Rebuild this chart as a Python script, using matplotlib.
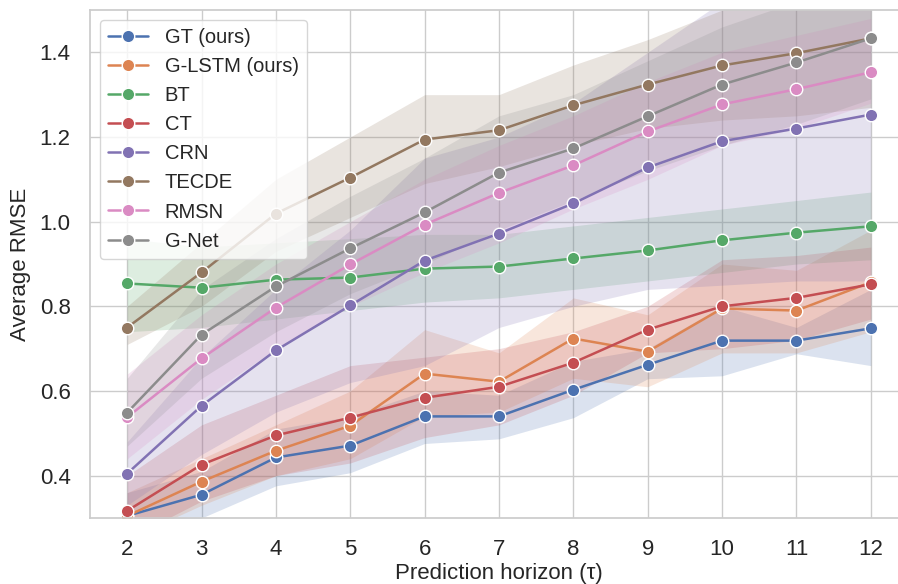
import matplotlib
matplotlib.use("Agg")
import matplotlib.pyplot as plt
import seaborn as sns
import numpy as np

horizons = [2, 3, 4, 5, 6, 7, 8, 9, 10, 11, 12]
models = ["GT (ours)", "G-LSTM (ours)", "BT", "CT", "CRN", "TECDE", "RMSN", "G-Net"]

gt_mean = [0.305, 0.355, 0.443, 0.471, 0.540, 0.540, 0.603, 0.662, 0.719, 0.719, 0.748]
gt_low = [0.25, 0.30, 0.376, 0.407, 0.476, 0.487, 0.537, 0.629, 0.636, 0.688, 0.66]
gt_high = [0.36, 0.41, 0.51, 0.54, 0.60, 0.59, 0.67, 0.70, 0.80, 0.75, 0.84]

glstm_mean = [0.305, 0.386, 0.459, 0.518, 0.641, 0.622, 0.724, 0.693, 0.795, 0.790, 0.857]
glstm_low = [0.25, 0.33, 0.40, 0.44, 0.54, 0.55, 0.63, 0.61, 0.69, 0.69, 0.74]
glstm_high = [0.36, 0.44, 0.52, 0.60, 0.745, 0.69, 0.82, 0.78, 0.90, 0.885, 0.98]

bt_mean = [0.854, 0.844, 0.863, 0.868, 0.889, 0.894, 0.913, 0.932, 0.956, 0.974, 0.989]
bt_low = [0.74, 0.75, 0.77, 0.79, 0.81, 0.82, 0.84, 0.86, 0.88, 0.90, 0.91]
bt_high = [0.96, 0.94, 0.95, 0.96, 0.97, 0.97, 0.99, 1.01, 1.03, 1.05, 1.07]

ct_mean = [0.317, 0.426, 0.495, 0.537, 0.584, 0.610, 0.667, 0.745, 0.800, 0.820, 0.852]
ct_low = [0.25, 0.34, 0.40, 0.43, 0.49, 0.52, 0.59, 0.69, 0.70, 0.72, 0.77]
ct_high = [0.40, 0.52, 0.59, 0.66, 0.68, 0.70, 0.74, 0.80, 0.91, 0.92, 0.94]

crn_mean = [0.405, 0.565, 0.696, 0.802, 0.908, 0.972, 1.043, 1.128, 1.190, 1.220, 1.253]
crn_low = [0.33, 0.45, 0.55, 0.62, 0.66, 0.75, 0.80, 0.84, 0.85, 0.86, 0.86]
crn_high = [0.48, 0.68, 0.84, 0.98, 1.15, 1.20, 1.28, 1.40, 1.52, 1.58, 1.65]

tecde_mean = [0.750, 0.880, 1.019, 1.104, 1.194, 1.216, 1.275, 1.324, 1.369, 1.398, 1.433]
tecde_low = [0.71, 0.80, 0.93, 1.01, 1.09, 1.13, 1.18, 1.22, 1.24, 1.25, 1.27]
tecde_high = [0.80, 0.95, 1.10, 1.20, 1.30, 1.30, 1.37, 1.43, 1.50, 1.55, 1.60]

rmsn_mean = [0.538, 0.677, 0.797, 0.899, 0.993, 1.068, 1.133, 1.213, 1.277, 1.313, 1.353]
rmsn_low = [0.44, 0.58, 0.70, 0.80, 0.88, 0.95, 1.03, 1.10, 1.18, 1.22, 1.28]
rmsn_high = [0.64, 0.78, 0.90, 1.00, 1.10, 1.18, 1.25, 1.33, 1.40, 1.44, 1.48]

gnet_mean = [0.549, 0.733, 0.847, 0.937, 1.022, 1.116, 1.173, 1.249, 1.324, 1.376, 1.433]
gnet_low = [0.47, 0.63, 0.74, 0.83, 0.90, 0.98, 1.05, 1.12, 1.18, 1.23, 1.29]
gnet_high = [0.63, 0.84, 0.96, 1.06, 1.15, 1.25, 1.30, 1.38, 1.46, 1.52, 1.58]

means = [gt_mean, glstm_mean, bt_mean, ct_mean, crn_mean, tecde_mean, rmsn_mean, gnet_mean]
lows = [gt_low, glstm_low, bt_low, ct_low, crn_low, tecde_low, rmsn_low, gnet_low]
highs = [gt_high, glstm_high, bt_high, ct_high, crn_high, tecde_high, rmsn_high, gnet_high]

sns.set_theme(style="whitegrid")
plt.rcParams['font.family'] = ['Liberation Sans', 'DejaVu Sans']
colors = sns.color_palette("deep")

fig = plt.figure(figsize=(8.98, 5.84), dpi=100)
ax = fig.add_axes([90 / 898, 66 / 584, 818 / 898, 508 / 584])

for i, name in enumerate(models):
    ax.fill_between(horizons, lows[i], highs[i], color=colors[i], alpha=0.2, linewidth=0)
    ax.plot(horizons, means[i], color=colors[i], marker='o', markersize=9,
            markeredgecolor='white', markeredgewidth=1, linewidth=1.8, label=name)

ax.set_xlim(1.5, 12.5)
ax.set_ylim(0.3, 1.5)
ax.set_xticks(horizons)
ax.set_yticks([0.4, 0.6, 0.8, 1.0, 1.2, 1.4])
ax.tick_params(labelsize=16)
ax.tick_params(axis='x', pad=9)
ax.tick_params(axis='y', pad=8)
ax.set_xlabel("Prediction horizon (τ)", fontsize=16, labelpad=2)
ax.set_ylabel("Average RMSE", fontsize=16, labelpad=6)
ax.legend(loc="upper left", fontsize=14.5, frameon=True)

fig.savefig("out.png", dpi=100)
